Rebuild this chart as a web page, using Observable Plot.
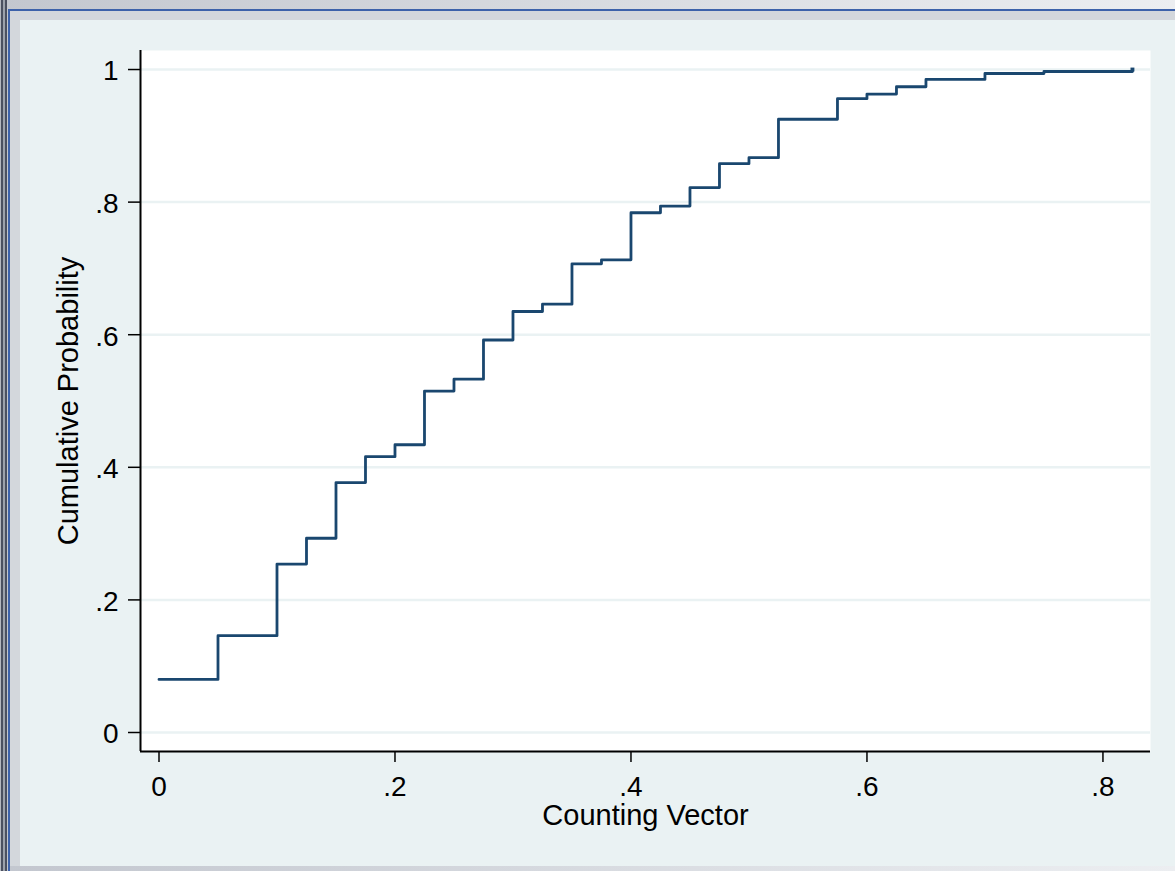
<!DOCTYPE html>
<html>
<head>
<meta charset="utf-8">
<script src="https://cdn.jsdelivr.net/npm/d3@7"></script>
<script src="https://cdn.jsdelivr.net/npm/@observablehq/plot@0.6"></script>
<style>
  html, body { margin: 0; padding: 0; width: 1175px; height: 871px; overflow: hidden; background: #c9cdd4; }
  .deco { position: absolute; }
  #chart { position: absolute; left: 0; top: 0; }
</style>
</head>
<body>
<div class="deco" style="left:0;top:0;width:1175px;height:9px;background:linear-gradient(to right,#c3c7cf,#eceef1);"></div>
<div class="deco" style="left:10px;top:11px;width:1165px;height:860px;background:#d3d7dc;"></div>
<div class="deco" style="left:8px;top:9px;width:1167px;height:2px;background:#3d62aa;"></div>
<div class="deco" style="left:8px;top:9px;width:2px;height:862px;background:#3d62aa;"></div>
<div class="deco" style="left:0;top:0;width:1px;height:871px;background:#b4b8c0;"></div>
<div class="deco" style="left:1px;top:0;width:2px;height:871px;background:#4b5161;"></div>
<div class="deco" style="left:3px;top:0;width:2px;height:871px;background:#9ca2ac;"></div>
<div class="deco" style="left:5px;top:0;width:2px;height:871px;background:#4b5161;"></div>
<div class="deco" style="left:7px;top:0;width:1px;height:871px;background:#c3c7cf;"></div>
<div class="deco" style="left:10px;top:866px;width:1165px;height:5px;background:linear-gradient(to right,#c3c7cf,#eceef1);"></div>
<div class="deco" style="left:20px;top:20px;width:1155px;height:846px;background:#eaf2f3;"></div>
<div id="chart"></div>
<script>
// Counting vector values (x) and empirical cumulative probability (y)
const countingVector = [0, 0.05, 0.1, 0.125, 0.15, 0.175, 0.2, 0.225, 0.25, 0.275, 0.3, 0.325, 0.35, 0.375, 0.4, 0.425, 0.45, 0.475, 0.5, 0.525, 0.575, 0.6, 0.625, 0.65, 0.7, 0.75, 0.825];
const cumulativeProbability = [0.080, 0.146, 0.254, 0.293, 0.377, 0.416, 0.434, 0.515, 0.533, 0.592, 0.635, 0.646, 0.707, 0.713, 0.784, 0.794, 0.822, 0.858, 0.867, 0.925, 0.956, 0.963, 0.974, 0.985, 0.994, 0.997, 1.0];
const xTicks = [0, 0.2, 0.4, 0.6, 0.8];
const yTicks = [0, 0.2, 0.4, 0.6, 0.8, 1];
const xTitle = "Counting Vector";
const yTitle = "Cumulative Probability";

const data = countingVector.map((x, i) => ({x, y: cumulativeProbability[i]}));
const fmt = d => d === 0 ? "0" : d === 1 ? "1" : String(+d.toFixed(1)).replace(/^0/, "");

const xDomain = [-0.01568, 0.8403];
const yDomain = [-0.02866, 1.0287];
const navy = "#1a476f";
const fsTitle = 29;
const fsTick = 28;

const chart = Plot.plot({
  width: 1175,
  height: 871,
  marginLeft: 140,
  marginRight: 25,
  marginTop: 50,
  marginBottom: 120,
  style: {background: "transparent", fontFamily: "'Liberation Sans', Arial, sans-serif", fontSize: fsTick + "px", color: "black"},
  x: {domain: xDomain},
  y: {domain: yDomain},
  marks: [
    Plot.frame({fill: "white", stroke: null}),
    Plot.gridY(yTicks, {stroke: "#eaf2f3", strokeOpacity: 1, strokeWidth: 2.5}),
    Plot.line(data, {x: "x", y: "y", curve: "step-after", stroke: navy, strokeWidth: 2.8}),
    Plot.dot(data.slice(-1), {x: "x", y: "y", symbol: "square", r: 2.2, fill: navy, stroke: null}),
    Plot.ruleX([xDomain[0]], {stroke: "black", strokeWidth: 2}),
    Plot.ruleY([yDomain[0]], {stroke: "black", strokeWidth: 2}),
    Plot.axisY(yTicks, {tickSize: 12, tickFormat: () => "", label: null, stroke: "black", strokeWidth: 1.5}),
    Plot.axisY(yTicks, {tickSize: 0, tickPadding: 22, dy: 2, tickFormat: fmt, label: null, fill: "black", fontSize: fsTick}),
    Plot.axisX(xTicks, {tickSize: 11, tickPadding: 14, tickFormat: fmt, label: null, stroke: "black", strokeWidth: 1.5, fill: "black", fontSize: fsTick}),
    Plot.text([yTitle], {frameAnchor: "left", text: d => d, rotate: -90, dx: -72, textAnchor: "middle", lineAnchor: "middle", fill: "black", fontSize: fsTitle}),
    Plot.text([xTitle], {frameAnchor: "bottom", text: d => d, dy: 64, textAnchor: "middle", lineAnchor: "middle", fill: "black", fontSize: fsTitle})
  ]
});
document.getElementById("chart").appendChild(chart);
</script>
</body>
</html>
